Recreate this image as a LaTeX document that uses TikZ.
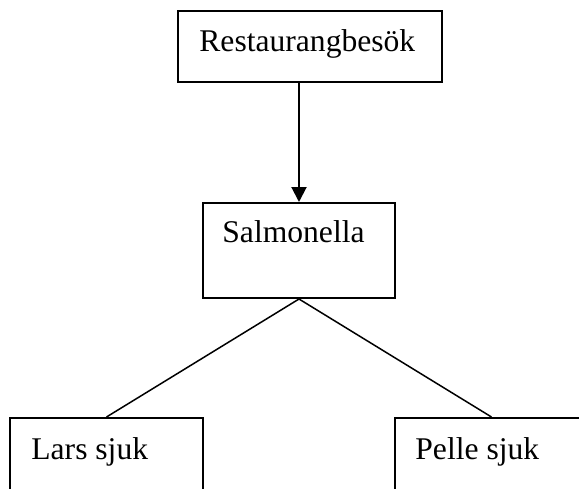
\documentclass[tikz,border=0pt]{standalone}
\usepackage{fontspec}
\setmainfont{Liberation Serif}
\usetikzlibrary{arrows.meta}

\begin{document}
\begin{tikzpicture}[x=0.5pt,y=-0.5pt,
  box/.style={draw,line width=1pt,rectangle,inner sep=0pt},
  txt/.style={anchor=base west,inner sep=0pt,font=\fontsize{15.8}{19}\selectfont},
  link/.style={line width=0.75pt},
  pil/.style={line width=1pt,-{Triangle[length=7.5pt,width=7.5pt]}}]
  \clip (0,0) rectangle (579,488);
  % boxes
  \node[box,minimum width=132pt,minimum height=35.5pt] (restaurang) at (310,46.5) {};
  \node[box,minimum width=96pt,minimum height=47.5pt] (salmonella) at (299,250.5) {};
  \node[box,minimum width=96.5pt,minimum height=47.5pt] (lars) at (106.5,465.5) {};
  \node[box,minimum width=96.5pt,minimum height=47.5pt] (pelle) at (491.5,465.5) {};
  % texts
  \node[txt] (restauranglabel) at ([shift={(22,41)}]restaurang.north west) {Restaurangbesök};
  \node[txt] (salmonellalabel) at ([shift={(20,40)}]salmonella.north west) {Salmonella};
  \node[txt] (larslabel) at ([shift={(22,42)}]lars.north west) {Lars sjuk};
  \node[txt] (pellelabel) at ([shift={(21,42)}]pelle.north west) {Pelle sjuk};
  % connectors
  \draw[pil] (restaurang.south -| salmonella.north) -- (salmonella.north);
  \draw[link] (salmonella.south) -- (lars.north);
  \draw[link] (salmonella.south) -- (pelle.north);
\end{tikzpicture}
\end{document}
